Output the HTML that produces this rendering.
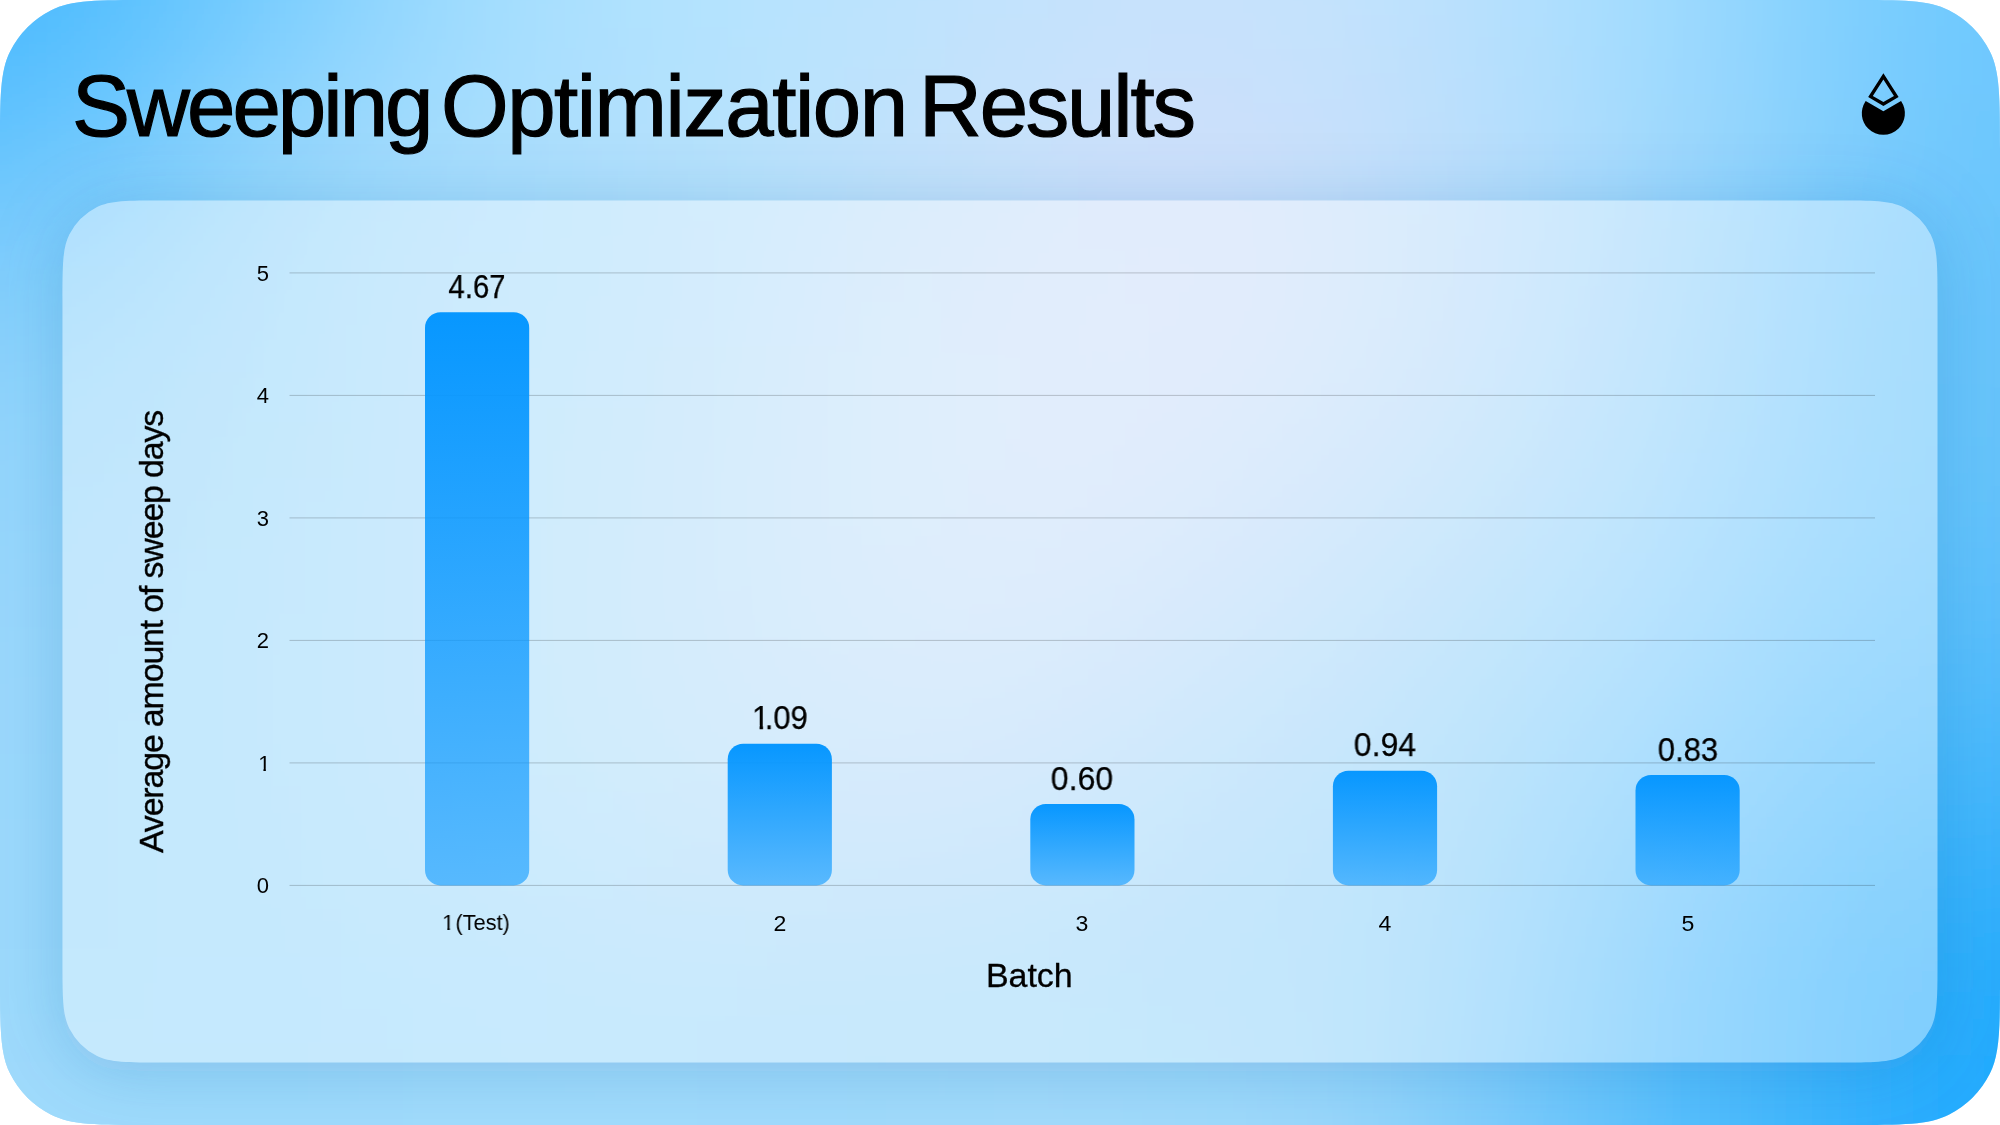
<!DOCTYPE html>
<html lang="en"><head><meta charset="utf-8"><title>Sweeping Optimization Results</title>
<style>
html,body{margin:0;padding:0;background:#fff;}
body{width:2000px;height:1125px;overflow:hidden;position:relative;font-family:"Liberation Sans",sans-serif;color:#000;}
#slide{position:absolute;left:0;top:0;width:2000px;height:1125px;overflow:hidden;
 clip-path:path("M1850 0c52.5 0 78.76 0 98.81 10.22a93.75 93.75 0 0 1 40.97 40.97c10.22 20.05 10.22 46.31 10.22 98.81L2000 975c0 52.5 0 78.76 -10.22 98.81a93.75 93.75 0 0 1 -40.97 40.97c-20.05 10.22 -46.31 10.22 -98.81 10.22L150 1125c-52.5 0 -78.76 0 -98.81 -10.22a93.75 93.75 0 0 1 -40.97 -40.97c-10.22 -20.05 -10.22 -46.31 -10.22 -98.81L0 150c0 -52.5 0 -78.76 10.22 -98.81a93.75 93.75 0 0 1 40.97 -40.97c20.05 -10.22 46.31 -10.22 98.81 -10.22Z");
 background:#a6dcfd;
}
svg{position:absolute;left:0;top:0;}
.t{position:absolute;white-space:nowrap;line-height:1;will-change:transform;}
.title{margin:0;font-weight:normal;font-size:87px;-webkit-text-stroke:1.2px #000;}
.val{font-size:32.5px;text-align:center;width:200px;-webkit-text-stroke:.25px #000;}
.yt{font-size:22px;text-align:right;width:60px;}
.xt{font-size:22px;text-align:center;width:200px;}
.one{display:inline-block;clip-path:polygon(0 0,100% 0,100% 72%,63% 72%,63% 100%,43% 100%,43% 72%,0 72%);}
.ax{font-size:34px;-webkit-text-stroke:.3px #000;}
</style></head><body>
<div id="slide">
<svg width="2000" height="1125" viewBox="0 0 2000 1125">
<defs>
<filter id="bgb" filterUnits="userSpaceOnUse" x="-300" y="-300" width="2600" height="1725"><feGaussianBlur stdDeviation="75"/></filter>
<filter id="sb" filterUnits="userSpaceOnUse" x="-100" y="0" width="2200" height="1300"><feGaussianBlur stdDeviation="35"/></filter>
<mask id="out" maskUnits="userSpaceOnUse" x="0" y="0" width="2000" height="1125"><rect width="2000" height="1125" fill="#fff"/><path d="M1837.5 200.4c35 0 52.5 0 65.87 6.81a62.5 62.5 0 0 1 27.31 27.31c6.81 13.37 6.81 30.87 6.81 65.87L1937.5 962.5c0 35 0 52.5 -6.81 65.87a62.5 62.5 0 0 1 -27.31 27.31c-13.37 6.81 -30.87 6.81 -65.87 6.81L162.5 1062.5c-35 0 -52.5 0 -65.87 -6.81a62.5 62.5 0 0 1 -27.31 -27.31c-6.81 -13.37 -6.81 -30.87 -6.81 -65.87L62.5 300.4c0 -35 0 -52.5 6.81 -65.87a62.5 62.5 0 0 1 27.31 -27.31c13.37 -6.81 30.87 -6.81 65.87 -6.81Z" fill="#000"/></mask>
<linearGradient id="bg" x1="0" y1="0" x2="0" y2="1"><stop offset="0" stop-color="#0797ff"/><stop offset="1" stop-color="#0797ff" stop-opacity=".59"/></linearGradient>
</defs>
<g filter="url(#bgb)"><rect x="-300" y="-300" width="101" height="101" fill="#47b9fe"/><rect x="-200" y="-300" width="101" height="101" fill="#47b9fe"/><rect x="-100" y="-300" width="101" height="101" fill="#47b9fe"/><rect x="0" y="-300" width="101" height="101" fill="#4cbbfe"/><rect x="100" y="-300" width="101" height="101" fill="#59c1fe"/><rect x="200" y="-300" width="101" height="101" fill="#6fcafe"/><rect x="300" y="-300" width="101" height="101" fill="#85d2fe"/><rect x="400" y="-300" width="101" height="101" fill="#9bdbfe"/><rect x="500" y="-300" width="101" height="101" fill="#a9e0fe"/><rect x="600" y="-300" width="101" height="101" fill="#b0e2fe"/><rect x="700" y="-300" width="101" height="101" fill="#b6e3fe"/><rect x="800" y="-300" width="101" height="101" fill="#bbe3fe"/><rect x="900" y="-300" width="101" height="101" fill="#c0e3fd"/><rect x="1000" y="-300" width="101" height="101" fill="#c4e3fd"/><rect x="1100" y="-300" width="101" height="101" fill="#c6e2fd"/><rect x="1200" y="-300" width="101" height="101" fill="#c6e2fd"/><rect x="1300" y="-300" width="101" height="101" fill="#c2e2fd"/><rect x="1400" y="-300" width="101" height="101" fill="#bae1fd"/><rect x="1500" y="-300" width="101" height="101" fill="#afe0fe"/><rect x="1600" y="-300" width="101" height="101" fill="#a1dcfe"/><rect x="1700" y="-300" width="101" height="101" fill="#8fd5fe"/><rect x="1800" y="-300" width="101" height="101" fill="#7dcffe"/><rect x="1900" y="-300" width="101" height="101" fill="#6ec9fe"/><rect x="2000" y="-300" width="101" height="101" fill="#6ac8fe"/><rect x="2100" y="-300" width="101" height="101" fill="#6ac8fe"/><rect x="2200" y="-300" width="101" height="101" fill="#6ac8fe"/><rect x="-300" y="-200" width="101" height="101" fill="#47b9fe"/><rect x="-200" y="-200" width="101" height="101" fill="#47b9fe"/><rect x="-100" y="-200" width="101" height="101" fill="#47b9fe"/><rect x="0" y="-200" width="101" height="101" fill="#4cbbfe"/><rect x="100" y="-200" width="101" height="101" fill="#59c1fe"/><rect x="200" y="-200" width="101" height="101" fill="#6fcafe"/><rect x="300" y="-200" width="101" height="101" fill="#85d2fe"/><rect x="400" y="-200" width="101" height="101" fill="#9bdbfe"/><rect x="500" y="-200" width="101" height="101" fill="#a9e0fe"/><rect x="600" y="-200" width="101" height="101" fill="#b0e2fe"/><rect x="700" y="-200" width="101" height="101" fill="#b6e3fe"/><rect x="800" y="-200" width="101" height="101" fill="#bbe3fe"/><rect x="900" y="-200" width="101" height="101" fill="#c0e3fd"/><rect x="1000" y="-200" width="101" height="101" fill="#c4e3fd"/><rect x="1100" y="-200" width="101" height="101" fill="#c6e2fd"/><rect x="1200" y="-200" width="101" height="101" fill="#c6e2fd"/><rect x="1300" y="-200" width="101" height="101" fill="#c2e2fd"/><rect x="1400" y="-200" width="101" height="101" fill="#bae1fd"/><rect x="1500" y="-200" width="101" height="101" fill="#afe0fe"/><rect x="1600" y="-200" width="101" height="101" fill="#a1dcfe"/><rect x="1700" y="-200" width="101" height="101" fill="#8fd5fe"/><rect x="1800" y="-200" width="101" height="101" fill="#7dcffe"/><rect x="1900" y="-200" width="101" height="101" fill="#6ec9fe"/><rect x="2000" y="-200" width="101" height="101" fill="#6ac8fe"/><rect x="2100" y="-200" width="101" height="101" fill="#6ac8fe"/><rect x="2200" y="-200" width="101" height="101" fill="#6ac8fe"/><rect x="-300" y="-100" width="101" height="101" fill="#47b9fe"/><rect x="-200" y="-100" width="101" height="101" fill="#47b9fe"/><rect x="-100" y="-100" width="101" height="101" fill="#47b9fe"/><rect x="0" y="-100" width="101" height="101" fill="#4cbbfe"/><rect x="100" y="-100" width="101" height="101" fill="#59c1fe"/><rect x="200" y="-100" width="101" height="101" fill="#6fcafe"/><rect x="300" y="-100" width="101" height="101" fill="#85d2fe"/><rect x="400" y="-100" width="101" height="101" fill="#9bdbfe"/><rect x="500" y="-100" width="101" height="101" fill="#a9e0fe"/><rect x="600" y="-100" width="101" height="101" fill="#b0e2fe"/><rect x="700" y="-100" width="101" height="101" fill="#b6e3fe"/><rect x="800" y="-100" width="101" height="101" fill="#bbe3fe"/><rect x="900" y="-100" width="101" height="101" fill="#c0e3fd"/><rect x="1000" y="-100" width="101" height="101" fill="#c4e3fd"/><rect x="1100" y="-100" width="101" height="101" fill="#c6e2fd"/><rect x="1200" y="-100" width="101" height="101" fill="#c6e2fd"/><rect x="1300" y="-100" width="101" height="101" fill="#c2e2fd"/><rect x="1400" y="-100" width="101" height="101" fill="#bae1fd"/><rect x="1500" y="-100" width="101" height="101" fill="#afe0fe"/><rect x="1600" y="-100" width="101" height="101" fill="#a1dcfe"/><rect x="1700" y="-100" width="101" height="101" fill="#8fd5fe"/><rect x="1800" y="-100" width="101" height="101" fill="#7dcffe"/><rect x="1900" y="-100" width="101" height="101" fill="#6ec9fe"/><rect x="2000" y="-100" width="101" height="101" fill="#6ac8fe"/><rect x="2100" y="-100" width="101" height="101" fill="#6ac8fe"/><rect x="2200" y="-100" width="101" height="101" fill="#6ac8fe"/><rect x="-300" y="0" width="101" height="101" fill="#4bbafe"/><rect x="-200" y="0" width="101" height="101" fill="#4bbafe"/><rect x="-100" y="0" width="101" height="101" fill="#4bbafe"/><rect x="0" y="0" width="101" height="101" fill="#51bdfe"/><rect x="100" y="0" width="101" height="101" fill="#61c4fe"/><rect x="200" y="0" width="101" height="101" fill="#79cefe"/><rect x="300" y="0" width="101" height="101" fill="#8cd4fe"/><rect x="400" y="0" width="101" height="101" fill="#9edbfe"/><rect x="500" y="0" width="101" height="101" fill="#aae0fe"/><rect x="600" y="0" width="101" height="101" fill="#b1e2fe"/><rect x="700" y="0" width="101" height="101" fill="#b6e3fe"/><rect x="800" y="0" width="101" height="101" fill="#bbe3fd"/><rect x="900" y="0" width="101" height="101" fill="#c0e2fd"/><rect x="1000" y="0" width="101" height="101" fill="#c5e2fd"/><rect x="1100" y="0" width="101" height="101" fill="#c8e1fc"/><rect x="1200" y="0" width="101" height="101" fill="#c8e1fc"/><rect x="1300" y="0" width="101" height="101" fill="#c3e2fd"/><rect x="1400" y="0" width="101" height="101" fill="#bbe1fd"/><rect x="1500" y="0" width="101" height="101" fill="#afdffe"/><rect x="1600" y="0" width="101" height="101" fill="#a1dbfe"/><rect x="1700" y="0" width="101" height="101" fill="#91d5fe"/><rect x="1800" y="0" width="101" height="101" fill="#7fcffe"/><rect x="1900" y="0" width="101" height="101" fill="#6fc9fe"/><rect x="2000" y="0" width="101" height="101" fill="#6bc8fe"/><rect x="2100" y="0" width="101" height="101" fill="#6bc8fe"/><rect x="2200" y="0" width="101" height="101" fill="#6bc8fe"/><rect x="-300" y="100" width="101" height="101" fill="#60c2fd"/><rect x="-200" y="100" width="101" height="101" fill="#60c2fd"/><rect x="-100" y="100" width="101" height="101" fill="#60c2fd"/><rect x="0" y="100" width="101" height="101" fill="#68c6fe"/><rect x="100" y="100" width="101" height="101" fill="#7acdfd"/><rect x="200" y="100" width="101" height="101" fill="#91d5fc"/><rect x="300" y="100" width="101" height="101" fill="#9edafd"/><rect x="400" y="100" width="101" height="101" fill="#a7ddfd"/><rect x="500" y="100" width="101" height="101" fill="#acdffd"/><rect x="600" y="100" width="101" height="101" fill="#b2e0fc"/><rect x="700" y="100" width="101" height="101" fill="#b8e2fc"/><rect x="800" y="100" width="101" height="101" fill="#bee2fc"/><rect x="900" y="100" width="101" height="101" fill="#c4e1fb"/><rect x="1000" y="100" width="101" height="101" fill="#c9e1fb"/><rect x="1100" y="100" width="101" height="101" fill="#cde0fb"/><rect x="1200" y="100" width="101" height="101" fill="#cce0fb"/><rect x="1300" y="100" width="101" height="101" fill="#c6e0fc"/><rect x="1400" y="100" width="101" height="101" fill="#bcdffc"/><rect x="1500" y="100" width="101" height="101" fill="#b0ddfd"/><rect x="1600" y="100" width="101" height="101" fill="#a2dafd"/><rect x="1700" y="100" width="101" height="101" fill="#91d4fd"/><rect x="1800" y="100" width="101" height="101" fill="#7ecdfd"/><rect x="1900" y="100" width="101" height="101" fill="#6fc8fd"/><rect x="2000" y="100" width="101" height="101" fill="#6bc6fd"/><rect x="2100" y="100" width="101" height="101" fill="#6bc6fd"/><rect x="2200" y="100" width="101" height="101" fill="#6bc6fd"/><rect x="-300" y="200" width="101" height="101" fill="#78cbfd"/><rect x="-200" y="200" width="101" height="101" fill="#78cbfd"/><rect x="-100" y="200" width="101" height="101" fill="#78cbfd"/><rect x="0" y="200" width="101" height="101" fill="#7ecdfd"/><rect x="100" y="200" width="101" height="101" fill="#8cd3fd"/><rect x="200" y="200" width="101" height="101" fill="#99d8fc"/><rect x="300" y="200" width="101" height="101" fill="#a4dcfc"/><rect x="400" y="200" width="101" height="101" fill="#aadefd"/><rect x="500" y="200" width="101" height="101" fill="#addffd"/><rect x="600" y="200" width="101" height="101" fill="#b3e0fc"/><rect x="700" y="200" width="101" height="101" fill="#bae1fc"/><rect x="800" y="200" width="101" height="101" fill="#c3e2fc"/><rect x="900" y="200" width="101" height="101" fill="#c9e2fb"/><rect x="1000" y="200" width="101" height="101" fill="#cee1fb"/><rect x="1100" y="200" width="101" height="101" fill="#d1e0fa"/><rect x="1200" y="200" width="101" height="101" fill="#d0e0fa"/><rect x="1300" y="200" width="101" height="101" fill="#c8e0fb"/><rect x="1400" y="200" width="101" height="101" fill="#bedefc"/><rect x="1500" y="200" width="101" height="101" fill="#b1dbfc"/><rect x="1600" y="200" width="101" height="101" fill="#a1d7fc"/><rect x="1700" y="200" width="101" height="101" fill="#8dd1fd"/><rect x="1800" y="200" width="101" height="101" fill="#76c9fd"/><rect x="1900" y="200" width="101" height="101" fill="#69c5fd"/><rect x="2000" y="200" width="101" height="101" fill="#68c5fc"/><rect x="2100" y="200" width="101" height="101" fill="#68c5fc"/><rect x="2200" y="200" width="101" height="101" fill="#68c5fc"/><rect x="-300" y="300" width="101" height="101" fill="#89d2fc"/><rect x="-200" y="300" width="101" height="101" fill="#89d2fc"/><rect x="-100" y="300" width="101" height="101" fill="#89d2fc"/><rect x="0" y="300" width="101" height="101" fill="#8dd3fc"/><rect x="100" y="300" width="101" height="101" fill="#94d6fc"/><rect x="200" y="300" width="101" height="101" fill="#9cd9fc"/><rect x="300" y="300" width="101" height="101" fill="#a4dcfc"/><rect x="400" y="300" width="101" height="101" fill="#aadefc"/><rect x="500" y="300" width="101" height="101" fill="#aedffc"/><rect x="600" y="300" width="101" height="101" fill="#b4e0fc"/><rect x="700" y="300" width="101" height="101" fill="#bce1fc"/><rect x="800" y="300" width="101" height="101" fill="#c5e3fc"/><rect x="900" y="300" width="101" height="101" fill="#cbe3fb"/><rect x="1000" y="300" width="101" height="101" fill="#d0e2fa"/><rect x="1100" y="300" width="101" height="101" fill="#d0e1fa"/><rect x="1200" y="300" width="101" height="101" fill="#cde0fa"/><rect x="1300" y="300" width="101" height="101" fill="#c6e0fb"/><rect x="1400" y="300" width="101" height="101" fill="#bbdefc"/><rect x="1500" y="300" width="101" height="101" fill="#addafc"/><rect x="1600" y="300" width="101" height="101" fill="#9dd6fc"/><rect x="1700" y="300" width="101" height="101" fill="#8ad0fd"/><rect x="1800" y="300" width="101" height="101" fill="#75cafd"/><rect x="1900" y="300" width="101" height="101" fill="#68c5fc"/><rect x="2000" y="300" width="101" height="101" fill="#66c4fb"/><rect x="2100" y="300" width="101" height="101" fill="#66c4fb"/><rect x="2200" y="300" width="101" height="101" fill="#66c4fb"/><rect x="-300" y="400" width="101" height="101" fill="#92d5fc"/><rect x="-200" y="400" width="101" height="101" fill="#92d5fc"/><rect x="-100" y="400" width="101" height="101" fill="#92d5fc"/><rect x="0" y="400" width="101" height="101" fill="#94d6fc"/><rect x="100" y="400" width="101" height="101" fill="#99d7fb"/><rect x="200" y="400" width="101" height="101" fill="#9fdafb"/><rect x="300" y="400" width="101" height="101" fill="#a5dcfc"/><rect x="400" y="400" width="101" height="101" fill="#abdefc"/><rect x="500" y="400" width="101" height="101" fill="#b0dffc"/><rect x="600" y="400" width="101" height="101" fill="#b6e0fb"/><rect x="700" y="400" width="101" height="101" fill="#bee2fb"/><rect x="800" y="400" width="101" height="101" fill="#c5e3fb"/><rect x="900" y="400" width="101" height="101" fill="#cce3fb"/><rect x="1000" y="400" width="101" height="101" fill="#cfe2fa"/><rect x="1100" y="400" width="101" height="101" fill="#cde1fa"/><rect x="1200" y="400" width="101" height="101" fill="#c8dffa"/><rect x="1300" y="400" width="101" height="101" fill="#bfdefb"/><rect x="1400" y="400" width="101" height="101" fill="#b4dcfb"/><rect x="1500" y="400" width="101" height="101" fill="#a6d9fc"/><rect x="1600" y="400" width="101" height="101" fill="#97d5fc"/><rect x="1700" y="400" width="101" height="101" fill="#85cffd"/><rect x="1800" y="400" width="101" height="101" fill="#73c9fd"/><rect x="1900" y="400" width="101" height="101" fill="#67c5fc"/><rect x="2000" y="400" width="101" height="101" fill="#64c3fb"/><rect x="2100" y="400" width="101" height="101" fill="#64c3fb"/><rect x="2200" y="400" width="101" height="101" fill="#64c3fb"/><rect x="-300" y="500" width="101" height="101" fill="#96d7fc"/><rect x="-200" y="500" width="101" height="101" fill="#96d7fc"/><rect x="-100" y="500" width="101" height="101" fill="#96d7fc"/><rect x="0" y="500" width="101" height="101" fill="#98d7fc"/><rect x="100" y="500" width="101" height="101" fill="#9bd8fc"/><rect x="200" y="500" width="101" height="101" fill="#a0dafc"/><rect x="300" y="500" width="101" height="101" fill="#a6ddfc"/><rect x="400" y="500" width="101" height="101" fill="#abdefc"/><rect x="500" y="500" width="101" height="101" fill="#b1dffc"/><rect x="600" y="500" width="101" height="101" fill="#b7e0fb"/><rect x="700" y="500" width="101" height="101" fill="#bee1fb"/><rect x="800" y="500" width="101" height="101" fill="#c5e3fa"/><rect x="900" y="500" width="101" height="101" fill="#cae3fa"/><rect x="1000" y="500" width="101" height="101" fill="#cbe1fa"/><rect x="1100" y="500" width="101" height="101" fill="#c7dffa"/><rect x="1200" y="500" width="101" height="101" fill="#bfddfa"/><rect x="1300" y="500" width="101" height="101" fill="#b5dbfa"/><rect x="1400" y="500" width="101" height="101" fill="#a9d9fb"/><rect x="1500" y="500" width="101" height="101" fill="#9dd7fc"/><rect x="1600" y="500" width="101" height="101" fill="#8fd2fd"/><rect x="1700" y="500" width="101" height="101" fill="#7ecdfe"/><rect x="1800" y="500" width="101" height="101" fill="#6cc7fe"/><rect x="1900" y="500" width="101" height="101" fill="#62c3fc"/><rect x="2000" y="500" width="101" height="101" fill="#5fc1fb"/><rect x="2100" y="500" width="101" height="101" fill="#5fc1fb"/><rect x="2200" y="500" width="101" height="101" fill="#5fc1fb"/><rect x="-300" y="600" width="101" height="101" fill="#99d8fc"/><rect x="-200" y="600" width="101" height="101" fill="#99d8fc"/><rect x="-100" y="600" width="101" height="101" fill="#99d8fc"/><rect x="0" y="600" width="101" height="101" fill="#9ad8fc"/><rect x="100" y="600" width="101" height="101" fill="#9cd9fc"/><rect x="200" y="600" width="101" height="101" fill="#a1dbfc"/><rect x="300" y="600" width="101" height="101" fill="#a6ddfc"/><rect x="400" y="600" width="101" height="101" fill="#acdefc"/><rect x="500" y="600" width="101" height="101" fill="#b1dffc"/><rect x="600" y="600" width="101" height="101" fill="#b7e0fb"/><rect x="700" y="600" width="101" height="101" fill="#bee1fb"/><rect x="800" y="600" width="101" height="101" fill="#c3e1fa"/><rect x="900" y="600" width="101" height="101" fill="#c5e1fa"/><rect x="1000" y="600" width="101" height="101" fill="#c4dffa"/><rect x="1100" y="600" width="101" height="101" fill="#bdddfa"/><rect x="1200" y="600" width="101" height="101" fill="#b4dbfa"/><rect x="1300" y="600" width="101" height="101" fill="#aad9fa"/><rect x="1400" y="600" width="101" height="101" fill="#9fd7fb"/><rect x="1500" y="600" width="101" height="101" fill="#92d3fc"/><rect x="1600" y="600" width="101" height="101" fill="#84cffd"/><rect x="1700" y="600" width="101" height="101" fill="#73c9fe"/><rect x="1800" y="600" width="101" height="101" fill="#61c3fe"/><rect x="1900" y="600" width="101" height="101" fill="#58bffc"/><rect x="2000" y="600" width="101" height="101" fill="#56bdfb"/><rect x="2100" y="600" width="101" height="101" fill="#56bdfb"/><rect x="2200" y="600" width="101" height="101" fill="#56bdfb"/><rect x="-300" y="700" width="101" height="101" fill="#9bd9fc"/><rect x="-200" y="700" width="101" height="101" fill="#9bd9fc"/><rect x="-100" y="700" width="101" height="101" fill="#9bd9fc"/><rect x="0" y="700" width="101" height="101" fill="#9bd9fc"/><rect x="100" y="700" width="101" height="101" fill="#9dd9fc"/><rect x="200" y="700" width="101" height="101" fill="#a1dbfc"/><rect x="300" y="700" width="101" height="101" fill="#a6ddfc"/><rect x="400" y="700" width="101" height="101" fill="#abdefc"/><rect x="500" y="700" width="101" height="101" fill="#b0dffc"/><rect x="600" y="700" width="101" height="101" fill="#b6e0fb"/><rect x="700" y="700" width="101" height="101" fill="#badffb"/><rect x="800" y="700" width="101" height="101" fill="#bedffa"/><rect x="900" y="700" width="101" height="101" fill="#bedefa"/><rect x="1000" y="700" width="101" height="101" fill="#b9ddfa"/><rect x="1100" y="700" width="101" height="101" fill="#b1dbfa"/><rect x="1200" y="700" width="101" height="101" fill="#a9d9fa"/><rect x="1300" y="700" width="101" height="101" fill="#a1d7fa"/><rect x="1400" y="700" width="101" height="101" fill="#95d4fb"/><rect x="1500" y="700" width="101" height="101" fill="#87d0fc"/><rect x="1600" y="700" width="101" height="101" fill="#77cafd"/><rect x="1700" y="700" width="101" height="101" fill="#64c4fe"/><rect x="1800" y="700" width="101" height="101" fill="#53befe"/><rect x="1900" y="700" width="101" height="101" fill="#49bafc"/><rect x="2000" y="700" width="101" height="101" fill="#48b8fb"/><rect x="2100" y="700" width="101" height="101" fill="#48b8fb"/><rect x="2200" y="700" width="101" height="101" fill="#48b8fb"/><rect x="-300" y="800" width="101" height="101" fill="#9cd9fc"/><rect x="-200" y="800" width="101" height="101" fill="#9cd9fc"/><rect x="-100" y="800" width="101" height="101" fill="#9cd9fc"/><rect x="0" y="800" width="101" height="101" fill="#9cd9fc"/><rect x="100" y="800" width="101" height="101" fill="#9cd9fc"/><rect x="200" y="800" width="101" height="101" fill="#a0dbfc"/><rect x="300" y="800" width="101" height="101" fill="#a4dcfc"/><rect x="400" y="800" width="101" height="101" fill="#a7defc"/><rect x="500" y="800" width="101" height="101" fill="#acdffc"/><rect x="600" y="800" width="101" height="101" fill="#b0defc"/><rect x="700" y="800" width="101" height="101" fill="#b2ddfb"/><rect x="800" y="800" width="101" height="101" fill="#b4dcfb"/><rect x="900" y="800" width="101" height="101" fill="#b3dbfa"/><rect x="1000" y="800" width="101" height="101" fill="#addafa"/><rect x="1100" y="800" width="101" height="101" fill="#a6d9fa"/><rect x="1200" y="800" width="101" height="101" fill="#a0d7fa"/><rect x="1300" y="800" width="101" height="101" fill="#9ad6fb"/><rect x="1400" y="800" width="101" height="101" fill="#8fd2fb"/><rect x="1500" y="800" width="101" height="101" fill="#7eccfc"/><rect x="1600" y="800" width="101" height="101" fill="#6ac5fd"/><rect x="1700" y="800" width="101" height="101" fill="#55befd"/><rect x="1800" y="800" width="101" height="101" fill="#43b8fd"/><rect x="1900" y="800" width="101" height="101" fill="#39b4fc"/><rect x="2000" y="800" width="101" height="101" fill="#3ab3fb"/><rect x="2100" y="800" width="101" height="101" fill="#3ab3fb"/><rect x="2200" y="800" width="101" height="101" fill="#3ab3fb"/><rect x="-300" y="900" width="101" height="101" fill="#9dd9fc"/><rect x="-200" y="900" width="101" height="101" fill="#9dd9fc"/><rect x="-100" y="900" width="101" height="101" fill="#9dd9fc"/><rect x="0" y="900" width="101" height="101" fill="#9cd9fd"/><rect x="100" y="900" width="101" height="101" fill="#9cd9fd"/><rect x="200" y="900" width="101" height="101" fill="#9edafd"/><rect x="300" y="900" width="101" height="101" fill="#a1dcfd"/><rect x="400" y="900" width="101" height="101" fill="#a2ddfd"/><rect x="500" y="900" width="101" height="101" fill="#a5ddfd"/><rect x="600" y="900" width="101" height="101" fill="#a8ddfc"/><rect x="700" y="900" width="101" height="101" fill="#a8dbfc"/><rect x="800" y="900" width="101" height="101" fill="#a6dafb"/><rect x="900" y="900" width="101" height="101" fill="#a6d9fb"/><rect x="1000" y="900" width="101" height="101" fill="#a4d9fb"/><rect x="1100" y="900" width="101" height="101" fill="#9ed8fb"/><rect x="1200" y="900" width="101" height="101" fill="#9bd7fb"/><rect x="1300" y="900" width="101" height="101" fill="#98d5fb"/><rect x="1400" y="900" width="101" height="101" fill="#8dd1fc"/><rect x="1500" y="900" width="101" height="101" fill="#78cafc"/><rect x="1600" y="900" width="101" height="101" fill="#5fc1fd"/><rect x="1700" y="900" width="101" height="101" fill="#48b9fd"/><rect x="1800" y="900" width="101" height="101" fill="#34b2fd"/><rect x="1900" y="900" width="101" height="101" fill="#2baefc"/><rect x="2000" y="900" width="101" height="101" fill="#2badfc"/><rect x="2100" y="900" width="101" height="101" fill="#2badfc"/><rect x="2200" y="900" width="101" height="101" fill="#2badfc"/><rect x="-300" y="1000" width="101" height="101" fill="#9fdafc"/><rect x="-200" y="1000" width="101" height="101" fill="#9fdafc"/><rect x="-100" y="1000" width="101" height="101" fill="#9fdafc"/><rect x="0" y="1000" width="101" height="101" fill="#9edafc"/><rect x="100" y="1000" width="101" height="101" fill="#9ddafd"/><rect x="200" y="1000" width="101" height="101" fill="#9edbfd"/><rect x="300" y="1000" width="101" height="101" fill="#a0dbfd"/><rect x="400" y="1000" width="101" height="101" fill="#a1dcfd"/><rect x="500" y="1000" width="101" height="101" fill="#a2dcfd"/><rect x="600" y="1000" width="101" height="101" fill="#a3dcfc"/><rect x="700" y="1000" width="101" height="101" fill="#a2dbfc"/><rect x="800" y="1000" width="101" height="101" fill="#a0dafc"/><rect x="900" y="1000" width="101" height="101" fill="#a1dafb"/><rect x="1000" y="1000" width="101" height="101" fill="#a2dafb"/><rect x="1100" y="1000" width="101" height="101" fill="#9fd9fb"/><rect x="1200" y="1000" width="101" height="101" fill="#9dd9fb"/><rect x="1300" y="1000" width="101" height="101" fill="#99d6fb"/><rect x="1400" y="1000" width="101" height="101" fill="#89d0fc"/><rect x="1500" y="1000" width="101" height="101" fill="#73c9fd"/><rect x="1600" y="1000" width="101" height="101" fill="#5bc0fd"/><rect x="1700" y="1000" width="101" height="101" fill="#46b9fd"/><rect x="1800" y="1000" width="101" height="101" fill="#31b1fd"/><rect x="1900" y="1000" width="101" height="101" fill="#21abfe"/><rect x="2000" y="1000" width="101" height="101" fill="#20aafd"/><rect x="2100" y="1000" width="101" height="101" fill="#20aafd"/><rect x="2200" y="1000" width="101" height="101" fill="#20aafd"/><rect x="-300" y="1100" width="101" height="101" fill="#a0dbfc"/><rect x="-200" y="1100" width="101" height="101" fill="#a0dbfc"/><rect x="-100" y="1100" width="101" height="101" fill="#a0dbfc"/><rect x="0" y="1100" width="101" height="101" fill="#a0dbfc"/><rect x="100" y="1100" width="101" height="101" fill="#9fdbfc"/><rect x="200" y="1100" width="101" height="101" fill="#a0dbfc"/><rect x="300" y="1100" width="101" height="101" fill="#a1dbfc"/><rect x="400" y="1100" width="101" height="101" fill="#a2dcfc"/><rect x="500" y="1100" width="101" height="101" fill="#a3dcfc"/><rect x="600" y="1100" width="101" height="101" fill="#a2dcfc"/><rect x="700" y="1100" width="101" height="101" fill="#a1dbfc"/><rect x="800" y="1100" width="101" height="101" fill="#a0dbfc"/><rect x="900" y="1100" width="101" height="101" fill="#a3dbfb"/><rect x="1000" y="1100" width="101" height="101" fill="#a4dcfb"/><rect x="1100" y="1100" width="101" height="101" fill="#a3dbfb"/><rect x="1200" y="1100" width="101" height="101" fill="#a2dbfb"/><rect x="1300" y="1100" width="101" height="101" fill="#99d7fb"/><rect x="1400" y="1100" width="101" height="101" fill="#85d0fb"/><rect x="1500" y="1100" width="101" height="101" fill="#70c8fc"/><rect x="1600" y="1100" width="101" height="101" fill="#5cc1fd"/><rect x="1700" y="1100" width="101" height="101" fill="#4abbfd"/><rect x="1800" y="1100" width="101" height="101" fill="#35b3fe"/><rect x="1900" y="1100" width="101" height="101" fill="#20abff"/><rect x="2000" y="1100" width="101" height="101" fill="#1aa9ff"/><rect x="2100" y="1100" width="101" height="101" fill="#1aa9ff"/><rect x="2200" y="1100" width="101" height="101" fill="#1aa9ff"/><rect x="-300" y="1200" width="101" height="101" fill="#a0dbfc"/><rect x="-200" y="1200" width="101" height="101" fill="#a0dbfc"/><rect x="-100" y="1200" width="101" height="101" fill="#a0dbfc"/><rect x="0" y="1200" width="101" height="101" fill="#a0dbfc"/><rect x="100" y="1200" width="101" height="101" fill="#9fdbfc"/><rect x="200" y="1200" width="101" height="101" fill="#a0dbfc"/><rect x="300" y="1200" width="101" height="101" fill="#a1dbfc"/><rect x="400" y="1200" width="101" height="101" fill="#a2dcfc"/><rect x="500" y="1200" width="101" height="101" fill="#a3dcfc"/><rect x="600" y="1200" width="101" height="101" fill="#a2dcfc"/><rect x="700" y="1200" width="101" height="101" fill="#a1dbfc"/><rect x="800" y="1200" width="101" height="101" fill="#a0dbfc"/><rect x="900" y="1200" width="101" height="101" fill="#a3dbfb"/><rect x="1000" y="1200" width="101" height="101" fill="#a4dcfb"/><rect x="1100" y="1200" width="101" height="101" fill="#a3dbfb"/><rect x="1200" y="1200" width="101" height="101" fill="#a2dbfb"/><rect x="1300" y="1200" width="101" height="101" fill="#99d7fb"/><rect x="1400" y="1200" width="101" height="101" fill="#85d0fb"/><rect x="1500" y="1200" width="101" height="101" fill="#70c8fc"/><rect x="1600" y="1200" width="101" height="101" fill="#5cc1fd"/><rect x="1700" y="1200" width="101" height="101" fill="#4abbfd"/><rect x="1800" y="1200" width="101" height="101" fill="#35b3fe"/><rect x="1900" y="1200" width="101" height="101" fill="#20abff"/><rect x="2000" y="1200" width="101" height="101" fill="#1aa9ff"/><rect x="2100" y="1200" width="101" height="101" fill="#1aa9ff"/><rect x="2200" y="1200" width="101" height="101" fill="#1aa9ff"/><rect x="-300" y="1300" width="101" height="101" fill="#a0dbfc"/><rect x="-200" y="1300" width="101" height="101" fill="#a0dbfc"/><rect x="-100" y="1300" width="101" height="101" fill="#a0dbfc"/><rect x="0" y="1300" width="101" height="101" fill="#a0dbfc"/><rect x="100" y="1300" width="101" height="101" fill="#9fdbfc"/><rect x="200" y="1300" width="101" height="101" fill="#a0dbfc"/><rect x="300" y="1300" width="101" height="101" fill="#a1dbfc"/><rect x="400" y="1300" width="101" height="101" fill="#a2dcfc"/><rect x="500" y="1300" width="101" height="101" fill="#a3dcfc"/><rect x="600" y="1300" width="101" height="101" fill="#a2dcfc"/><rect x="700" y="1300" width="101" height="101" fill="#a1dbfc"/><rect x="800" y="1300" width="101" height="101" fill="#a0dbfc"/><rect x="900" y="1300" width="101" height="101" fill="#a3dbfb"/><rect x="1000" y="1300" width="101" height="101" fill="#a4dcfb"/><rect x="1100" y="1300" width="101" height="101" fill="#a3dbfb"/><rect x="1200" y="1300" width="101" height="101" fill="#a2dbfb"/><rect x="1300" y="1300" width="101" height="101" fill="#99d7fb"/><rect x="1400" y="1300" width="101" height="101" fill="#85d0fb"/><rect x="1500" y="1300" width="101" height="101" fill="#70c8fc"/><rect x="1600" y="1300" width="101" height="101" fill="#5cc1fd"/><rect x="1700" y="1300" width="101" height="101" fill="#4abbfd"/><rect x="1800" y="1300" width="101" height="101" fill="#35b3fe"/><rect x="1900" y="1300" width="101" height="101" fill="#20abff"/><rect x="2000" y="1300" width="101" height="101" fill="#1aa9ff"/><rect x="2100" y="1300" width="101" height="101" fill="#1aa9ff"/><rect x="2200" y="1300" width="101" height="101" fill="#1aa9ff"/></g>
<g mask="url(#out)"><path d="M1837.5 200.4c35 0 52.5 0 65.87 6.81a62.5 62.5 0 0 1 27.31 27.31c6.81 13.37 6.81 30.87 6.81 65.87L1937.5 962.5c0 35 0 52.5 -6.81 65.87a62.5 62.5 0 0 1 -27.31 27.31c-13.37 6.81 -30.87 6.81 -65.87 6.81L162.5 1062.5c-35 0 -52.5 0 -65.87 -6.81a62.5 62.5 0 0 1 -27.31 -27.31c-6.81 -13.37 -6.81 -30.87 -6.81 -65.87L62.5 300.4c0 -35 0 -52.5 6.81 -65.87a62.5 62.5 0 0 1 27.31 -27.31c13.37 -6.81 30.87 -6.81 65.87 -6.81Z" fill="#286eb4" fill-opacity=".24" filter="url(#sb)" transform="translate(0,8)"/></g>
<path d="M1837.5 200.4c35 0 52.5 0 65.87 6.81a62.5 62.5 0 0 1 27.31 27.31c6.81 13.37 6.81 30.87 6.81 65.87L1937.5 962.5c0 35 0 52.5 -6.81 65.87a62.5 62.5 0 0 1 -27.31 27.31c-13.37 6.81 -30.87 6.81 -65.87 6.81L162.5 1062.5c-35 0 -52.5 0 -65.87 -6.81a62.5 62.5 0 0 1 -27.31 -27.31c-6.81 -13.37 -6.81 -30.87 -6.81 -65.87L62.5 300.4c0 -35 0 -52.5 6.81 -65.87a62.5 62.5 0 0 1 27.31 -27.31c13.37 -6.81 30.87 -6.81 65.87 -6.81Z" fill="#fff" fill-opacity=".4"/>

<rect x="289.5" y="272.4" width="1585.5" height="1" fill="#000" fill-opacity=".2"/>
<rect x="289.5" y="394.9" width="1585.5" height="1" fill="#000" fill-opacity=".2"/>
<rect x="289.5" y="517.4" width="1585.5" height="1" fill="#000" fill-opacity=".2"/>
<rect x="289.5" y="639.9" width="1585.5" height="1" fill="#000" fill-opacity=".2"/>
<rect x="289.5" y="762.4" width="1585.5" height="1" fill="#000" fill-opacity=".2"/>
<rect x="289.5" y="884.9" width="1585.5" height="1" fill="#000" fill-opacity=".2"/>
<rect x="425.0" y="312.2" width="104.2" height="573.2" rx="15.5" fill="url(#bg)"/>
<rect x="727.7" y="743.8" width="104.2" height="141.6" rx="15.5" fill="url(#bg)"/>
<rect x="1030.3" y="804.0" width="104.2" height="81.4" rx="15.5" fill="url(#bg)"/>
<rect x="1332.9" y="770.8" width="104.2" height="114.6" rx="15.5" fill="url(#bg)"/>
<rect x="1635.5" y="775.0" width="104.2" height="110.4" rx="15.5" fill="url(#bg)"/>
<g transform="translate(1849.6,67.6) scale(2.815)" fill="#000">
<path fill-rule="evenodd" d="M12.0056 2L17.4144 10.4696L12.0053 13.6226L6.59668 10.4695L12.0056 2ZM8.25258 10.0686L12.0056 4.19197L15.7585 10.0687L12.0054 12.2565L8.25258 10.0686Z"/>
<path d="M11.9976 15.5131L5.72305 11.8554L5.5517 12.1237C3.61918 15.1498 4.05078 19.1129 6.58937 21.6518C9.57666 24.6394 14.42 24.6394 17.4073 21.6518C19.9459 19.1129 20.3775 15.1498 18.445 12.1237L18.2736 11.8553L11.9976 15.5131Z"/>
</g>
</svg>

<h1 class="title"><span class="t" style="left:72.4px;top:61.5px;letter-spacing:-2.95px">Sweeping</span> <span class="t" style="left:441.2px;top:61.5px;letter-spacing:-1.5px">Optimization</span> <span class="t" style="left:919px;top:61.5px;letter-spacing:-2.2px">Results</span></h1>
<div class="t val" id="v0" style="left:377.1px;top:270.7px;transform:scaleX(0.900)">4.67</div>
<div class="t val" id="v1" style="left:679.8px;top:702.3px;transform:scaleX(0.955)"><span class="one" style="margin-right:-.15em">1</span>.09</div>
<div class="t val" id="v2" style="left:982.4px;top:762.5px;transform:scaleX(0.985)">0.60</div>
<div class="t val" id="v3" style="left:1285.0px;top:729.3px;transform:scaleX(0.985)">0.94</div>
<div class="t val" id="v4" style="left:1587.6px;top:733.5px;transform:scaleX(0.953)">0.83</div>
<div class="t yt" id="y0" style="left:209.3px;top:262.9px">5</div>
<div class="t yt" id="y1" style="left:209.3px;top:385.4px">4</div>
<div class="t yt" id="y2" style="left:209.3px;top:507.9px">3</div>
<div class="t yt" id="y3" style="left:209.3px;top:630.4px">2</div>
<div class="t yt" id="y4" style="left:209.3px;top:752.9px"><span class="one" style="margin-right:-1.4px">1</span></div>
<div class="t yt" id="y5" style="left:209.3px;top:875.4px">0</div>
<div class="t xt" id="x0" style="left:376.3px;top:912.0px;transform:scaleX(0.99)"><span class="one" style="margin-right:-5px">1</span> (Test)</div>
<div class="t xt" id="x1" style="left:679.8px;top:913.0px;transform:scaleX(1.05)">2</div>
<div class="t xt" id="x2" style="left:982.4px;top:913.0px;transform:scaleX(1.05)">3</div>
<div class="t xt" id="x3" style="left:1285.0px;top:913.0px;transform:scaleX(1.05)">4</div>
<div class="t xt" id="x4" style="left:1587.6px;top:913.0px;transform:scaleX(1.05)">5</div>
<div class="t ax" id="xa" style="left:985.8px;top:957.5px;letter-spacing:-.1px">Batch</div>
<div class="t ax" id="ya" style="left:150.5px;top:631.8px;letter-spacing:-1.2px;transform:translate(-50%,-50%) rotate(-90deg);">Average amount of sweep days</div>
</div></body></html>
